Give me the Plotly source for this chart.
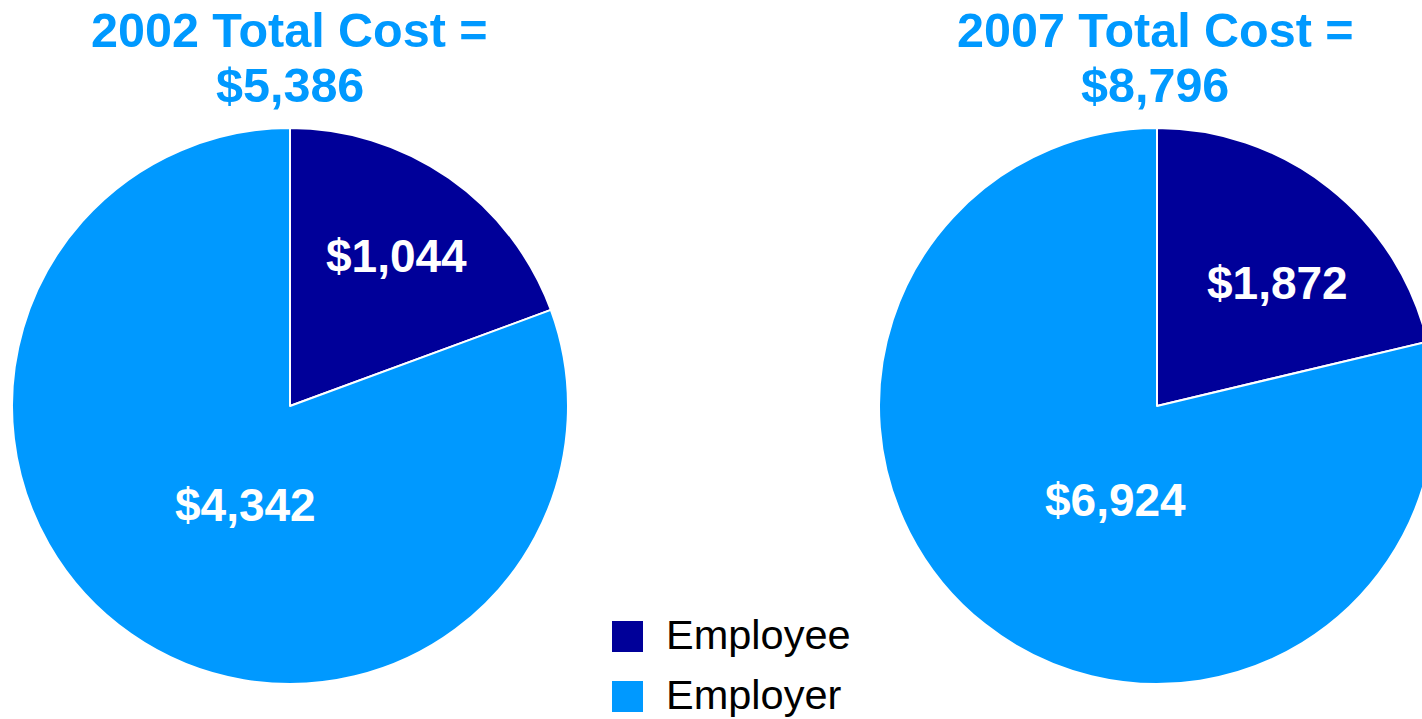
import plotly.graph_objects as go

# Annual premium split between employee and employer
categories = ["Employee", "Employer"]
years = ["2002", "2007"]
costs_2002 = [1044, 4342]
costs_2007 = [1872, 6924]
colors = ["#000099", "#0099FF"]

W, H = 1460, 719
FONT = "Liberation Sans, Arial, Helvetica, sans-serif"


def px(x):
    return x / W


def py(y):
    return 1 - y / H


dom_y = [(H - 684) / H, (H - 128) / H]

# pixel extents of each pie and where its slice labels sit
pie_boxes = [(12, 568), (879, 1435)]
label_spots = [[(396.5, 256), (245.5, 504.5)],
               [(1277, 282.5), (1115.5, 499.5)]]

fig = go.Figure()
for vals, (x0, x1), spots in zip([costs_2002, costs_2007], pie_boxes, label_spots):
    fig.add_trace(go.Pie(
        labels=categories,
        values=vals,
        sort=False,
        direction="clockwise",
        rotation=0,
        marker=dict(colors=colors, line=dict(color="white", width=2)),
        textinfo="none",
        domain=dict(x=[px(x0), px(x1)], y=dom_y),
        hoverinfo="label+value",
        showlegend=False,
    ))
    # slice value labels
    for v, (lx, ly) in zip(vals, spots):
        fig.add_annotation(x=px(lx), y=py(ly), xref="paper", yref="paper",
                           text=f"<b>${v:,}</b>", showarrow=False,
                           xanchor="center", yanchor="middle",
                           font=dict(family=FONT, size=46, color="white"))

# Titles above each pie
for yr, vals, cx in zip(years, [costs_2002, costs_2007], [289.5, 1155]):
    total = sum(vals)
    fig.add_annotation(x=px(cx), y=py(30), xref="paper", yref="paper",
                       text=f"<b>{yr} Total Cost =</b>", showarrow=False,
                       xanchor="center", yanchor="middle",
                       font=dict(family=FONT, size=48.5, color="#0099FF"))
    fig.add_annotation(x=px(cx), y=py(85), xref="paper", yref="paper",
                       text=f"<b>${total:,}</b>", showarrow=False,
                       xanchor="center", yanchor="middle",
                       font=dict(family=FONT, size=48.5, color="#0099FF"))

# Legend: colour swatches with labels
for i, (name, col) in enumerate(zip(categories, colors)):
    top = 621 + i * 60
    fig.add_shape(type="rect", xref="paper", yref="paper",
                  x0=px(612), x1=px(643), y0=py(top + 31), y1=py(top),
                  fillcolor=col, line=dict(width=0))
    fig.add_annotation(x=px(664), y=py(top + 13), xref="paper", yref="paper",
                       text=name, showarrow=False, xanchor="left", yanchor="middle",
                       font=dict(family=FONT, size=41.5, color="black"))

fig.update_layout(
    width=W, height=H,
    margin=dict(l=0, r=0, t=0, b=0),
    paper_bgcolor="white",
    plot_bgcolor="white",
    showlegend=False,
)

fig.write_html(
    "out.html",
    post_script="document.body.style.overflow='hidden';"
                "document.documentElement.style.overflow='hidden';",
)
